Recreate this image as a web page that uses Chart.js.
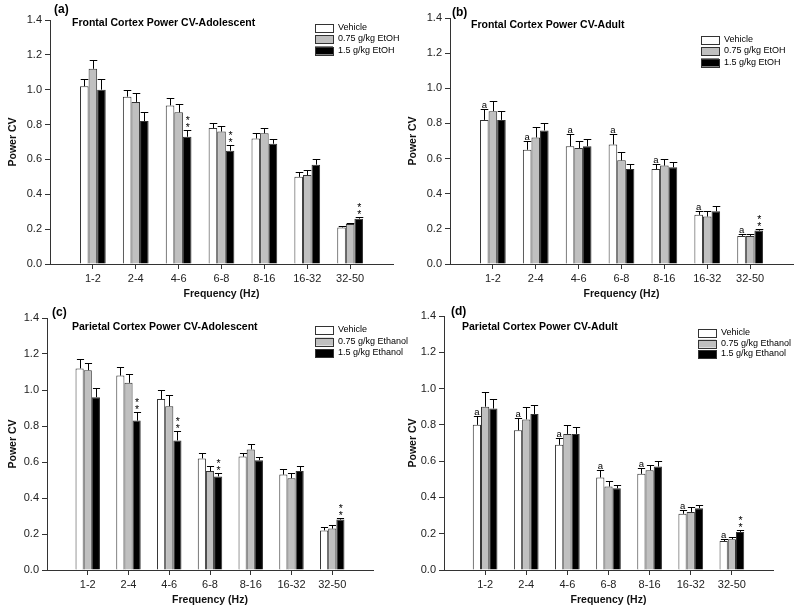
<!DOCTYPE html>
<html>
<head>
<meta charset="utf-8">
<script src="https://cdn.jsdelivr.net/npm/chart.js@4.4.0/dist/chart.umd.min.js"></script>
<style>
  html, body { margin: 0; padding: 0; background: #fff; }
  #wrap { position: relative; width: 800px; height: 611px; overflow: hidden; }
  .panel { position: absolute; }
</style>
</head>
<body>
<div id="wrap">
  <div class="panel" style="left:0;top:0;width:400px;height:300px"><canvas id="chartA"></canvas></div>
  <div class="panel" style="left:400px;top:0;width:400px;height:300px"><canvas id="chartB"></canvas></div>
  <div class="panel" style="left:400px;top:300px;width:400px;height:311px"><canvas id="chartD"></canvas></div>
  <div class="panel" style="left:0;top:300px;width:420px;height:311px"><canvas id="chartC"></canvas></div>
</div>
<script>
// ---- data ----
const categories = ['1-2', '2-4', '4-6', '6-8', '8-16', '16-32', '32-50'];
const seriesEtoh = ['Vehicle', '0.75 g/kg EtOH', '1.5 g/kg EtOH'];
const seriesEthanol = ['Vehicle', '0.75 g/kg Ethanol', '1.5 g/kg Ethanol'];
const yMin = 0, yMax = 1.4, yStep = 0.2;

// (a) frontal cortex, adolescent  (xxxTop = top of error bar)
const frontalAdoVeh     = [1.02, 0.96, 0.91, 0.78, 0.72, 0.50, 0.21];
const frontalAdoVehTop  = [1.06, 1.00, 0.95, 0.81, 0.75, 0.53, 0.22];
const frontalAdoLow     = [1.12, 0.93, 0.87, 0.76, 0.75, 0.51, 0.23];
const frontalAdoLowTop  = [1.17, 0.98, 0.92, 0.79, 0.78, 0.54, 0.235];
const frontalAdoHigh    = [1.00, 0.82, 0.73, 0.65, 0.69, 0.57, 0.26];
const frontalAdoHighTop = [1.06, 0.87, 0.77, 0.68, 0.72, 0.60, 0.27];
const frontalAdoVehMark  = ['', '', '', '', '', '', ''];
const frontalAdoHighMark = ['', '', '**', '**', '', '', '**'];

// (b) frontal cortex, adult
const frontalAdultVeh     = [0.82, 0.65, 0.67, 0.68, 0.54, 0.28, 0.16];
const frontalAdultVehTop  = [0.88, 0.70, 0.74, 0.74, 0.57, 0.30, 0.17];
const frontalAdultLow     = [0.87, 0.72, 0.66, 0.59, 0.56, 0.27, 0.16];
const frontalAdultLowTop  = [0.93, 0.78, 0.70, 0.64, 0.60, 0.30, 0.17];
const frontalAdultHigh    = [0.82, 0.76, 0.67, 0.54, 0.55, 0.30, 0.19];
const frontalAdultHighTop = [0.87, 0.80, 0.71, 0.57, 0.58, 0.33, 0.20];
const frontalAdultVehMark  = ['a', 'a', 'a', 'a', 'a', 'a', 'a'];
const frontalAdultHighMark = ['', '', '', '', '', '', '**'];

// (c) parietal cortex, adolescent
const parietalAdoVeh     = [1.12, 1.08, 0.95, 0.62, 0.63, 0.53, 0.22];
const parietalAdoVehTop  = [1.17, 1.13, 1.00, 0.65, 0.65, 0.56, 0.24];
const parietalAdoLow     = [1.11, 1.04, 0.91, 0.55, 0.67, 0.51, 0.23];
const parietalAdoLowTop  = [1.15, 1.09, 0.97, 0.58, 0.70, 0.54, 0.25];
const parietalAdoHigh    = [0.96, 0.83, 0.72, 0.52, 0.61, 0.55, 0.28];
const parietalAdoHighTop = [1.01, 0.88, 0.77, 0.54, 0.63, 0.58, 0.29];
const parietalAdoVehMark  = ['', '', '', '', '', '', ''];
const parietalAdoHighMark = ['', '**', '**', '**', '', '', '**'];

// (d) parietal cortex, adult
const parietalAdultVeh     = [0.80, 0.77, 0.69, 0.51, 0.53, 0.31, 0.16];
const parietalAdultVehTop  = [0.85, 0.84, 0.73, 0.55, 0.56, 0.33, 0.17];
const parietalAdultLow     = [0.90, 0.83, 0.75, 0.46, 0.55, 0.32, 0.17];
const parietalAdultLowTop  = [0.98, 0.90, 0.80, 0.49, 0.58, 0.35, 0.18];
const parietalAdultHigh    = [0.89, 0.86, 0.75, 0.45, 0.57, 0.34, 0.21];
const parietalAdultHighTop = [0.94, 0.91, 0.79, 0.47, 0.60, 0.36, 0.22];
const parietalAdultVehMark  = ['a', 'a', 'a', 'a', 'a', 'a', 'a'];
const parietalAdultHighMark = ['', '', '', '', '', '', '**'];

const barColors = ['#ffffff', '#c0c0c0', '#000000'];
const FONT = '"Liberation Sans", Arial, sans-serif';

// blank slot at each end so the groups sit at 1..7 of an 8-unit axis
const pad = arr => [null, ...arr, null];
const xLabels = pad(categories).map(v => v || '');

// error bars, letter/asterisk marks, panel titles and the legend
const decorPlugin = {
  id: 'decor',
  afterDatasetsDraw(chart, args, opts) {
    const ctx = chart.ctx;
    const yScale = chart.scales.y;
    ctx.save();
    ctx.strokeStyle = '#000';
    ctx.lineWidth = 1;
    chart.data.datasets.forEach((ds, di) => {
      const meta = chart.getDatasetMeta(di);
      meta.data.forEach((bar, i) => {
        const top = ds.errTop[i];
        if (top == null) return;
        const yt = Math.round(yScale.getPixelForValue(top)) + 0.5;
        const yb = bar.y;
        const x = Math.round(bar.x) + 0.5;
        const half = bar.width / 2 - 0.5;
        ctx.beginPath();
        ctx.moveTo(x, yb);
        ctx.lineTo(x, yt);
        ctx.moveTo(x - half, yt);
        ctx.lineTo(x + half, yt);
        ctx.stroke();
        const mark = ds.marks ? ds.marks[i] : '';
        if (mark) {
          ctx.fillStyle = '#000';
          ctx.textAlign = 'center';
          ctx.textBaseline = 'alphabetic';
          if (mark === 'a') {
            ctx.font = '9.5px ' + FONT;
            ctx.fillText('a', bar.x, yt - 2);
          } else {
            ctx.font = '10.5px ' + FONT;
            ctx.fillText('*', bar.x + 0.5, yt + 0.5);
            ctx.fillText('*', bar.x + 0.5, yt - 7);
          }
        }
      });
    });

    // panel letter and title
    ctx.fillStyle = '#000';
    ctx.textAlign = 'left';
    ctx.textBaseline = 'middle';
    ctx.font = 'bold 12px ' + FONT;
    ctx.fillText(opts.letter, opts.letterX, opts.letterY);
    ctx.font = 'bold 10.5px ' + FONT;
    ctx.fillText(opts.title, opts.titleX, opts.titleY);

    // legend
    ctx.font = '9px ' + FONT;
    chart.data.datasets.forEach((ds, di) => {
      const cy = opts.legY + di * opts.legStep;
      ctx.fillStyle = ds.backgroundColor;
      ctx.fillRect(opts.legX, cy - 4, 18, 8);
      ctx.strokeStyle = '#333';
      ctx.strokeRect(opts.legX + 0.5, Math.round(cy - 4) + 0.5, 18, 8);
      ctx.fillStyle = '#000';
      ctx.fillText(ds.label, opts.legX + 23, cy);
    });
    ctx.restore();
  }
};

function makeChart(id, p) {
  const values = [p.veh, p.low, p.high];
  const tops = [p.vehTop, p.lowTop, p.highTop];
  const marks = [p.vehMark, null, p.highMark];
  const datasets = p.series.map((name, i) => ({
    label: name,
    data: pad(values[i]),
    errTop: pad(tops[i]),
    marks: marks[i] ? pad(marks[i]) : null,
    backgroundColor: barColors[i],
    borderColor: '#333',
    borderWidth: 1,
    categoryPercentage: 0.6,
    barPercentage: 1.0
  }));

  return new Chart(document.getElementById(id), {
    type: 'bar',
    data: { labels: xLabels, datasets: datasets },
    options: {
      responsive: true,
      maintainAspectRatio: false,
      animation: false,
      layout: { padding: { top: p.padTop, right: p.padRight, left: 0, bottom: 0 } },
      plugins: {
        legend: { display: false },
        tooltip: { enabled: false },
        decor: p.decor
      },
      scales: {
        x: {
          offset: false,
          grid: {
            offset: false,
            drawOnChartArea: false,
            tickLength: 5,
            color: c => (c.index === 0 || c.index === xLabels.length - 1) ? 'rgba(0,0,0,0)' : '#333'
          },
          border: { display: true, color: '#333', width: 1 },
          ticks: { color: '#222', font: { family: FONT, size: 11 }, padding: 3, maxRotation: 0, autoSkip: false },
          title: {
            display: true, text: 'Frequency (Hz)', color: '#111',
            font: { family: FONT, size: 10.5, weight: 'bold' },
            padding: { top: 0, bottom: p.xTitlePad }
          },
          afterFit: s => { s.height = p.xHeight; }
        },
        y: {
          min: yMin, max: yMax,
          grid: { drawOnChartArea: false, tickLength: 5, color: '#333' },
          border: { display: true, color: '#333', width: 1 },
          ticks: {
            stepSize: yStep, color: '#222', padding: 3,
            font: { family: FONT, size: 11 },
            callback: v => Number(v).toFixed(1)
          },
          title: {
            display: true, text: 'Power CV', color: '#111',
            font: { family: FONT, size: 10.5, weight: 'bold' },
            padding: { top: 7, bottom: 0 }
          },
          afterFit: s => { s.width = p.yWidth; }
        }
      }
    },
    plugins: [decorPlugin]
  });
}

makeChart('chartA', {
  series: seriesEtoh,
  veh: frontalAdoVeh, vehTop: frontalAdoVehTop, vehMark: frontalAdoVehMark,
  low: frontalAdoLow, lowTop: frontalAdoLowTop,
  high: frontalAdoHigh, highTop: frontalAdoHighTop, highMark: frontalAdoHighMark,
  padTop: 20, padRight: 7, yWidth: 50, xHeight: 36, xTitlePad: 0,
  decor: { letter: '(a)', letterX: 54, letterY: 10, title: 'Frontal Cortex Power CV-Adolescent',
           titleX: 72, titleY: 23, legX: 315, legY: 27.5, legStep: 11.5 }
});

makeChart('chartB', {
  series: seriesEtoh,
  veh: frontalAdultVeh, vehTop: frontalAdultVehTop, vehMark: frontalAdultVehMark,
  low: frontalAdultLow, lowTop: frontalAdultLowTop,
  high: frontalAdultHigh, highTop: frontalAdultHighTop, highMark: frontalAdultHighMark,
  padTop: 18, padRight: 7, yWidth: 50, xHeight: 36, xTitlePad: 0,
  decor: { letter: '(b)', letterX: 52, letterY: 13, title: 'Frontal Cortex Power CV-Adult',
           titleX: 71, titleY: 25, legX: 301, legY: 39.5, legStep: 11.5 }
});

makeChart('chartD', {
  series: seriesEthanol,
  veh: parietalAdultVeh, vehTop: parietalAdultVehTop, vehMark: parietalAdultVehMark,
  low: parietalAdultLow, lowTop: parietalAdultLowTop,
  high: parietalAdultHigh, highTop: parietalAdultHighTop, highMark: parietalAdultHighMark,
  padTop: 16, padRight: 27, yWidth: 44, xHeight: 41, xTitlePad: 5,
  decor: { letter: '(d)', letterX: 51, letterY: 12, title: 'Parietal Cortex Power CV-Adult',
           titleX: 62, titleY: 27, legX: 298, legY: 33, legStep: 10.5 }
});

makeChart('chartC', {
  series: seriesEthanol,
  veh: parietalAdoVeh, vehTop: parietalAdoVehTop, vehMark: parietalAdoVehMark,
  low: parietalAdoLow, lowTop: parietalAdoLowTop,
  high: parietalAdoHigh, highTop: parietalAdoHighTop, highMark: parietalAdoHighMark,
  padTop: 18, padRight: 47, yWidth: 47, xHeight: 41, xTitlePad: 5,
  decor: { letter: '(c)', letterX: 52, letterY: 13, title: 'Parietal Cortex Power CV-Adolescent',
           titleX: 72, titleY: 27, legX: 315, legY: 30, legStep: 11.5 }
});
</script>
</body>
</html>
